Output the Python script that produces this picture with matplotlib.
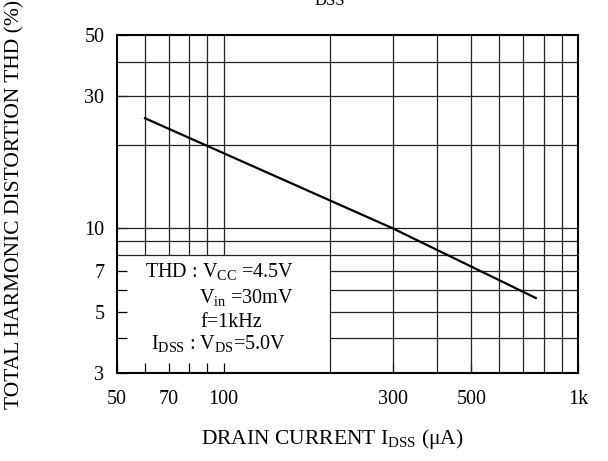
import matplotlib
matplotlib.use("Agg")
import matplotlib.pyplot as plt
from matplotlib.patches import Rectangle
from matplotlib.ticker import FixedLocator, NullFormatter

plt.rcParams['font.family'] = ['Liberation Serif', 'DejaVu Serif']
plt.rcParams['mathtext.fontset'] = 'custom'
plt.rcParams['mathtext.rm'] = 'Liberation Serif'

# THD vs drain current curve
idss = [60, 300, 760]      # uA
thd = [25.0, 10.0, 5.6]    # %

x_ticks = [50, 70, 100, 300, 500, 1000]
x_tick_labels = ['50', '70', '100', '300', '500', '1k']
y_ticks = [3, 5, 7, 10, 30, 50]
y_tick_labels = ['3', '5', '7', '10', '30', '50']

x_grid = [60, 70, 80, 90, 100, 200, 300, 400, 500, 600, 700, 800, 900]
y_grid = [4, 5, 6, 7, 8, 9, 10, 20, 30, 40]

fig = plt.figure(figsize=(6.08, 4.61), dpi=100)
ax = fig.add_axes([0.1924, 0.1909, 0.7583, 0.7332])
ax.set_xscale('log')
ax.set_yscale('log')
ax.set_xlim(50, 1000)
ax.set_ylim(3, 50)

# grid drawn by hand so the note box can hide part of it
grid_kw = dict(color='#222222', linewidth=0.9)
for xv in x_grid:
    ax.axvline(xv, zorder=2 if xv >= 200 else 1, **grid_kw)
for yv in y_grid:
    ax.axhline(yv, zorder=2 if yv >= 8 else 1, **grid_kw)

ax.add_patch(Rectangle((50, 3), 200 - 50, 8 - 3, facecolor='white',
                       edgecolor='none', zorder=1.5))

ax.plot(idss, thd, color='black', linewidth=1.6, zorder=3)

ax.xaxis.set_major_locator(FixedLocator(x_ticks))
ax.xaxis.set_minor_locator(FixedLocator([60, 80, 90]))
ax.set_xticklabels(x_tick_labels)
ax.xaxis.set_minor_formatter(NullFormatter())
ax.yaxis.set_major_locator(FixedLocator(y_ticks))
ax.yaxis.set_minor_locator(FixedLocator([4, 6]))
ax.set_yticklabels(y_tick_labels)
ax.yaxis.set_minor_formatter(NullFormatter())

fs = 14.5
ax.tick_params(which='both', direction='in', length=7, width=0.9,
               labelsize=fs, top=False, right=False)
ax.tick_params(axis='x', which='major', pad=12)
ax.tick_params(axis='y', which='major', pad=9)

for s in ax.spines.values():
    s.set_linewidth(1.5)
    s.set_zorder(4)

ax.set_xlabel('DRAIN CURRENT I$_{\\mathrm{DSS}}$ (μA)', fontsize=15.5)
ax.xaxis.set_label_coords(0.466, -0.16)
ax.set_ylabel('TOTAL HARMONIC DISTORTION THD (%)', fontsize=15.5)
ax.yaxis.set_label_coords(-0.20, 0.5)

# test conditions note
note_kw = dict(transform=ax.transAxes, fontsize=fs, va='baseline', zorder=5)
ax.text(0.061, 0.283, 'THD : V$_{\\mathrm{CC}}$ =4.5V', **note_kw)
ax.text(0.178, 0.204, 'V$_{\\mathrm{in}}$ =30mV', **note_kw)
ax.text(0.180, 0.135, 'f=1kHz', **note_kw)
ax.text(0.074, 0.070, 'I$_{\\mathrm{DSS}}$ : V$_{\\mathrm{DS}}$=5.0V', **note_kw)

# title mostly outside the page, only the subscript shows
fig.text(0.543, 1 - 5 / 461, 'DSS', ha='center', va='baseline', fontsize=12)

fig.savefig('out.png', dpi=100)
